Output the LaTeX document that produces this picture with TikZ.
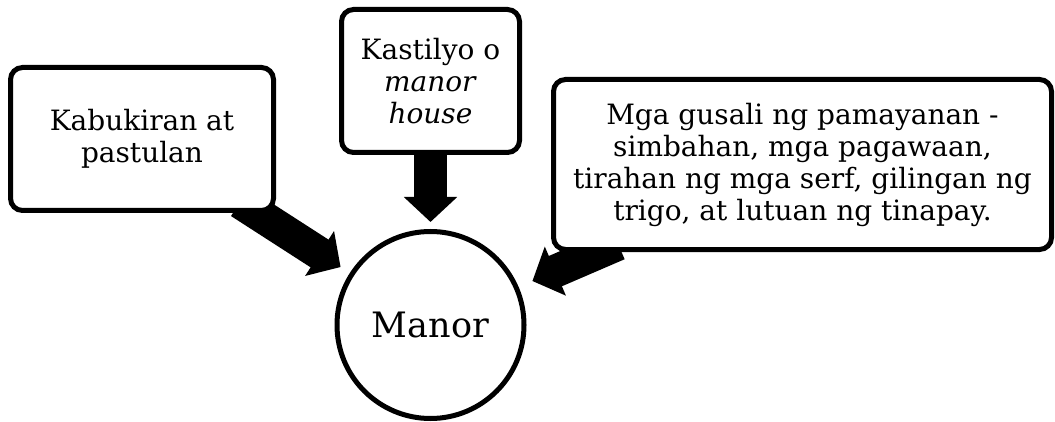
\documentclass[tikz,border=0pt]{standalone}
\usepackage{fontspec}
\setmainfont{DejaVu Serif}
\usetikzlibrary{arrows.meta,positioning,backgrounds}

\begin{document}
\begin{tikzpicture}[x=1pt,y=1pt,on grid,
  box/.style={draw,line width=5pt,rounded corners=12pt,fill=white,align=center,
    inner sep=0pt,font=\fontsize{28}{32}\selectfont},
  hub/.style={draw,circle,line width=5pt,fill=white,inner sep=0pt,
    minimum size=187pt,font=\fontsize{35}{42}\selectfont},
  fat/.style={line width=33pt,-{Triangle[length=25pt,width=52pt]},shorten <=-20pt}]

\useasboundingbox (0,0) rectangle (1055,421);

\node[hub] (manor) at (430.5,96) {Manor};
\node[box,minimum width=263pt,minimum height=143pt] (fields)
  [above left=186pt and 288.5pt of manor] {Kabukiran at\\pastulan};
\node[box,minimum width=178pt,minimum height=143pt] (castle)
  [above=244pt of manor] {Kastilyo o\\\textit{manor}\\\textit{house}};
\node[box,minimum width=498pt,minimum height=170pt] (town)
  [above right=160.5pt and 372pt of manor]
  {Mga gusali ng pamayanan -\\simbahan, mga pagawaan,\\tirahan ng mga serf, gilingan ng\\trigo, at lutuan ng tinapay.};

\begin{scope}[on background layer]
\draw[fat,shorten >=11pt] (fields) -- (manor);
\draw[fat,shorten >=7pt] (castle) -- (manor);
\draw[fat,shorten >=15pt] (town) -- (manor);
\end{scope}

\end{tikzpicture}
\end{document}
